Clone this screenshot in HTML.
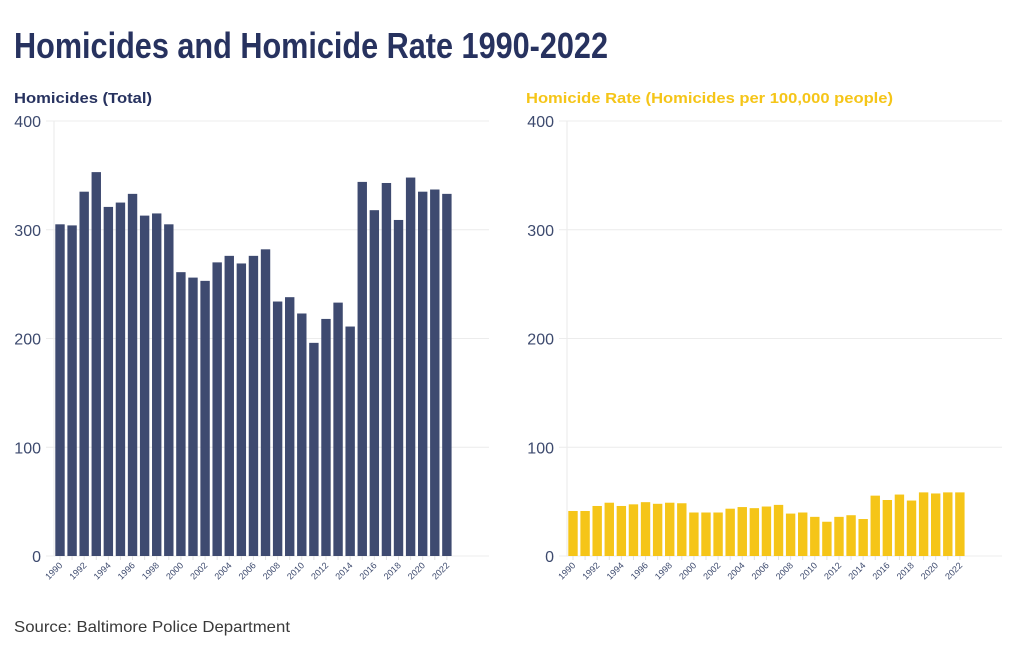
<!DOCTYPE html>
<html><head><meta charset="utf-8"><style>
body{margin:0;background:#fff;width:1024px;height:649px;overflow:hidden}
svg{display:block}
</style></head><body>
<svg width="1024" height="649" xmlns="http://www.w3.org/2000/svg" font-family="Liberation Sans, sans-serif">
<text x="14" y="58" font-weight="bold" font-size="36" fill="#27325f" textLength="594" lengthAdjust="spacingAndGlyphs">Homicides and Homicide Rate 1990-2022</text>
<text x="14" y="103" font-weight="bold" font-size="15" fill="#27325f" textLength="138" lengthAdjust="spacingAndGlyphs">Homicides (Total)</text>
<text x="526" y="103" font-weight="bold" font-size="15" fill="#f5c518" textLength="367" lengthAdjust="spacingAndGlyphs">Homicide Rate (Homicides per 100,000 people)</text>
<text x="14" y="632" font-size="16" fill="#3a3a3a" textLength="276" lengthAdjust="spacingAndGlyphs">Source: Baltimore Police Department</text>
<g id="charts"></g>
</svg>
<script>
const ns="http://www.w3.org/2000/svg";
const g=document.getElementById('charts');
function el(t,a,txt){const e=document.createElementNS(ns,t);for(const k in a)e.setAttribute(k,a[k]);if(txt!==undefined)e.textContent=txt;g.appendChild(e);return e;}
const hom=[305,304,335,353,321,325,333,313,315,305,261,256,253,270,276,269,276,282,234,238,223,196,218,233,211,344,318,343,309,348,335,337,333];
const rate=[41.4,41.4,46,49,46,47.5,49.5,48,49,48.5,40,40,40,43.5,45,44,45.5,47,39,40,36,31.5,36,37.5,34,55.5,51.5,56.5,51,58.5,57.5,58.5,58.5];
function chart(x0,data,color){
  const y0=556,sc=435/400;
  el('line',{x1:x0+54,y1:y0,x2:x0+54,y2:121,stroke:'#e8e8e8'});
  for(let v=0;v<=400;v+=100){const y=y0-v*sc;
    el('line',{x1:x0+46,y1:y,x2:x0+489,y2:y,stroke:'#ececec'});
    el('text',{x:x0+41,y:y+6,'text-anchor':'end','font-size':'16',fill:'#3d4a6e'},v);}
  data.forEach((v,i)=>{const cx=x0+60+i*12.09;const h=v*sc;
    el('rect',{x:cx-4.7,y:y0-h,width:9.4,height:h,fill:color});
    el('line',{x1:cx,y1:y0,x2:cx,y2:y0+4,stroke:'#e0e0e0'});
    if(i%2==0){el('text',{x:cx+3,y:y0+10,'text-anchor':'end','font-size':'9',fill:'#3d4a6e',transform:`rotate(-45 ${cx+3} ${y0+10})`},1990+i);}
  });
}
chart(0,hom,'#3e4a70');
chart(513,rate,'#f5c518');
</script>
</body></html>
